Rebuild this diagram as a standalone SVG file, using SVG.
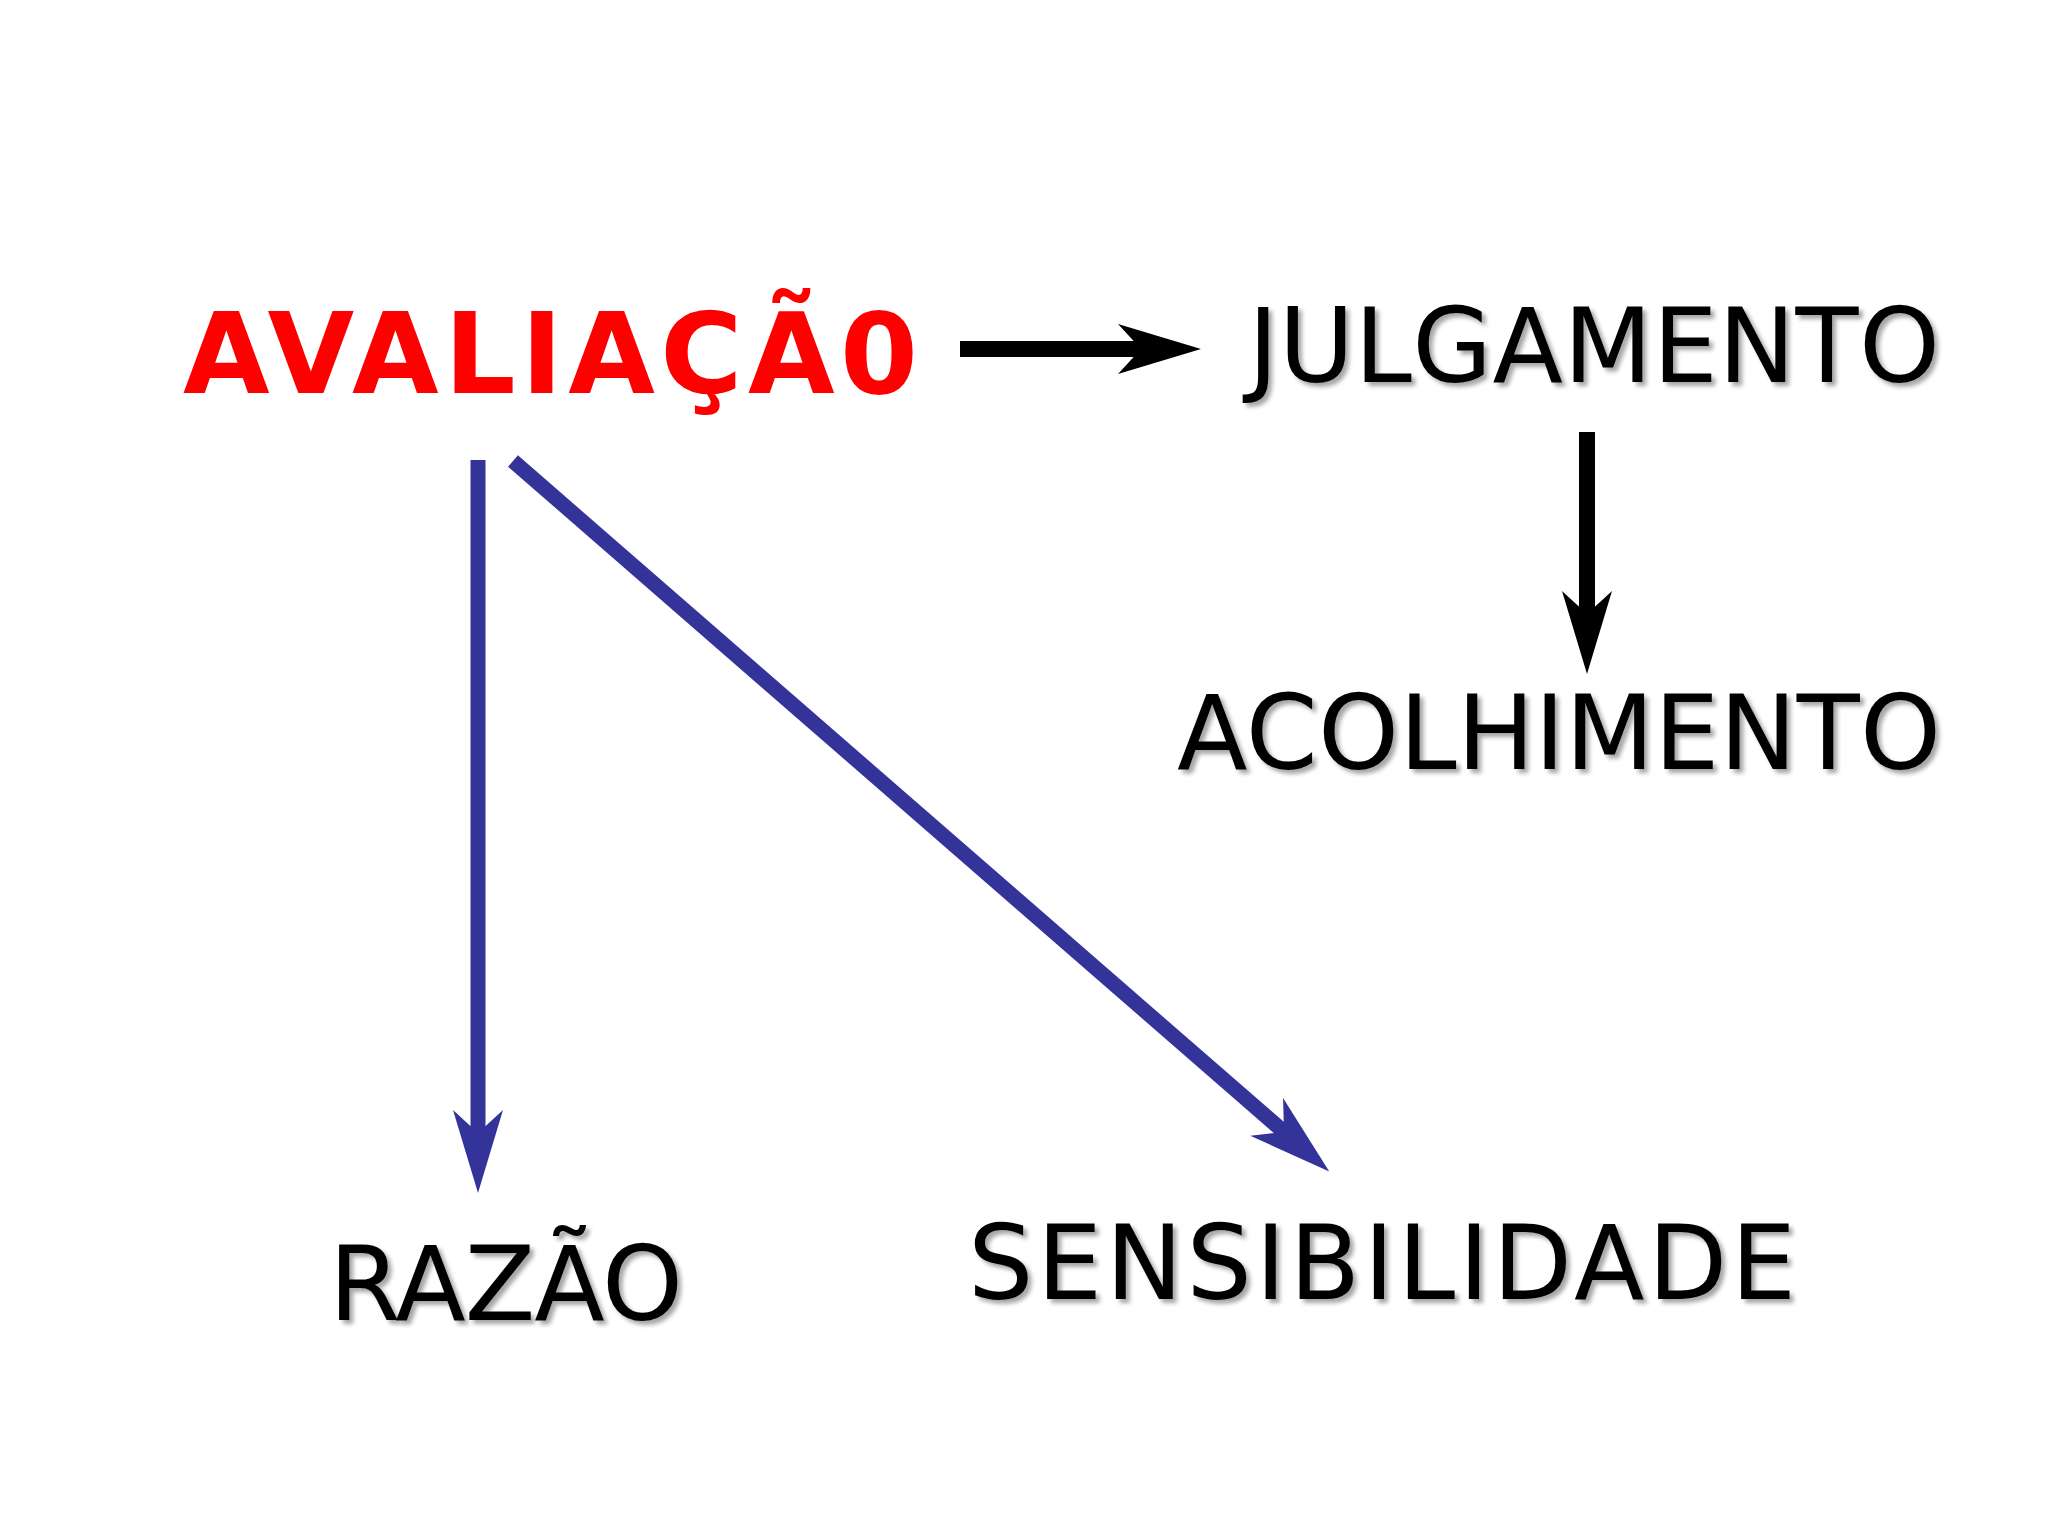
<svg xmlns="http://www.w3.org/2000/svg" width="2048" height="1536" viewBox="0 0 2048 1536">
<style>
.t{font-family:"DejaVu Sans","Liberation Sans",sans-serif;font-size:103px;fill:#000;filter:url(#sh)}
.r{font-family:"DejaVu Sans","Liberation Sans",sans-serif;font-size:112px;font-weight:bold;fill:#ff0000}
.k{stroke:#000;stroke-width:16;fill:none}
.b{stroke:#333399;stroke-width:15;fill:none}
</style>
<defs>
<filter id="sh" x="-5%" y="-20%" width="110%" height="150%">
<feDropShadow dx="4" dy="4" stdDeviation="2" flood-color="#000" flood-opacity="0.35"/>
</filter>
<marker id="hk" viewBox="-30 -30 95 60" markerWidth="95" markerHeight="60" refX="0" refY="0" markerUnits="userSpaceOnUse" orient="auto" overflow="visible">
<path d="M60,0 L-23,-25 L0,0 L-23,25 Z" fill="#000"/>
</marker>
<marker id="hb" viewBox="-30 -30 95 60" markerWidth="95" markerHeight="60" refX="0" refY="0" markerUnits="userSpaceOnUse" orient="auto" overflow="visible">
<path d="M60,0 L-23,-25 L0,0 L-23,25 Z" fill="#333399"/>
</marker>
</defs>
<rect width="2048" height="1536" fill="#fff"/>
<g id="connectors">
<line class="k" x1="960" y1="349" x2="1141" y2="349" marker-end="url(#hk)"/>
<line class="k" x1="1587" y1="432" x2="1587" y2="614" marker-end="url(#hk)"/>
<line class="b" x1="478" y1="460" x2="478" y2="1133" marker-end="url(#hb)"/>
<line class="b" x1="513" y1="461" x2="1284" y2="1132" marker-end="url(#hb)"/>
</g>
<g id="avaliacao"><text class="r" x="183" y="393" textLength="735" lengthAdjust="spacing">AVALIAÇÃ0</text></g>
<g id="julgamento"><text class="t" x="1248" y="382" textLength="692" lengthAdjust="spacing">JULGAMENTO</text></g>
<g id="acolhimento"><text class="t" x="1177" y="769" textLength="764" lengthAdjust="spacing">ACOLHIMENTO</text></g>
<g id="razao"><text class="t" x="329" y="1320" textLength="354" lengthAdjust="spacing">RAZÃO</text></g>
<g id="sensibilidade"><text class="t" x="968" y="1299" textLength="828" lengthAdjust="spacing">SENSIBILIDADE</text></g>
</svg>
